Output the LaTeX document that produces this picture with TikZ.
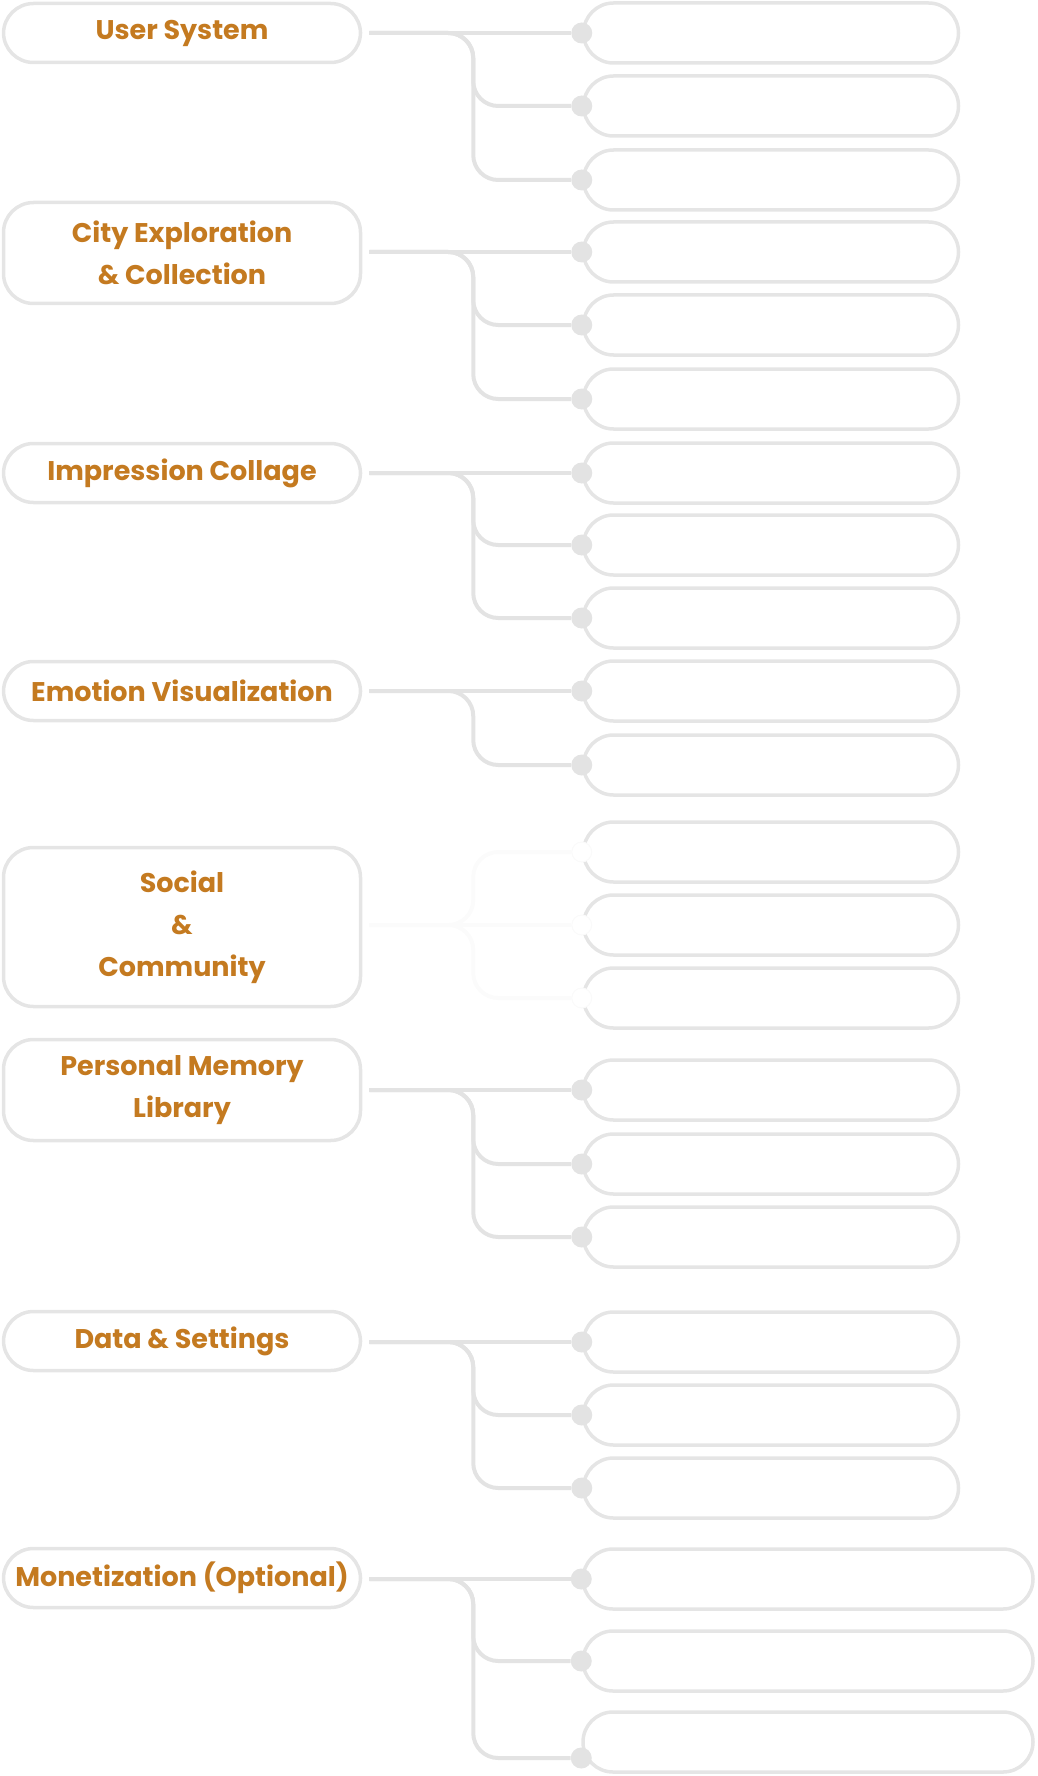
\documentclass[tikz,border=0pt]{standalone}
\usepackage{fontspec}
\setmainfont{Poppins}
\usetikzlibrary{positioning,calc}
\definecolor{amber}{HTML}{C47A20}
\definecolor{rim}{HTML}{E5E5E5}
\definecolor{wire}{HTML}{E3E3E3}

\begin{document}
\begin{tikzpicture}[x=1pt, y=-1pt,
  cat/.style={draw=rim, line width=3.5pt, rounded corners=30pt, minimum width=357pt, minimum height=59pt, align=center, text=amber, font=\fontsize{27}{42}\selectfont\bfseries},
  item/.style={draw=rim, line width=3.5pt, rounded corners=30pt, minimum width=375pt, minimum height=60pt, text=white, font=\fontsize{23}{26}\selectfont},
  wide/.style={item, minimum width=450pt},
  pin/.style={circle, fill=wire, inner sep=0pt, minimum size=21pt},
  ghost/.style={circle, fill=white, draw=black!2, line width=1pt, inner sep=0pt, minimum size=20pt},
  link/.style={draw=wire, line width=4pt, rounded corners=25pt},
  faint/.style={link, draw=black!1.5}]
\useasboundingbox (0,0) rectangle (1037,1776);

% main categories
\node[cat] (us) at (182,33) {User System};
\node[cat, minimum height=101pt] (city) at (182,253) {City Exploration\\\& Collection};
\node[cat] (imp) at (182,473) {Impression Collage};
\node[cat] (emo) at (182,691) {Emotion Visualization};
\node[cat, minimum height=159pt] (soc) at (182,927) {Social\\\&\\Community};
\node[cat, minimum height=101pt] (mem) at (182,1090) {Personal Memory\\Library};
\node[cat] (data) at (182,1341) {Data \& Settings};
\node[cat] (money) at (182,1578) {Monetization (Optional)};

% features
\node[item] (login) at (771,33) {Sign Up \& Login};
\node[item] (info) at (771,106) {Personal Info Management};
\node[item] (pref) at (771,180) {Preference Settings};
\node[item] (map) at (771,252) {City Map Browsing};
\node[item] (modes) at (771,325) {Multi-modal Collection Mode};
\node[item] (graffiti) at (771,399) {AR Graffiti Creation};
\node[item] (auto) at (771,473) {Auto Collage Generation};
\node[item] (editor) at (771,545) {Collage Editor};
\node[item] (manage) at (771,618) {Collage Management};
\node[item] (report) at (771,691) {Personal Emotion Reports};
\node[item] (layer) at (771,765) {City Emotion Layers};
\node[item] (discover) at (771,852) {Content Discovery};
\node[item] (interact) at (771,925) {Interactive Features};
\node[item] (collab) at (771,998) {Collaborative Creation};
\node[item] (timeline) at (771,1090) {Timeline View};
\node[item] (album) at (771,1164) {Location Albums};
\node[item] (review) at (771,1237) {Memory Review};
\node[item] (stats) at (771,1342) {Data Statistics};
\node[item] (account) at (771,1415) {Account \& Security};
\node[item] (help) at (771,1488) {Help \& Feedback};
\node[wide] (premium) at (808,1579) {Premium Feature Subscription};
\node[wide] (store) at (808,1661) {Virtual Goods Store};
\node[wide] (partner) at (808,1742) {Partner Merchant Traffic Redirection};

% joints
\node[pin] (login-p) at (login.west) {}; \node[pin] (info-p) at (info.west) {}; \node[pin] (pref-p) at (pref.west) {};
\node[pin] (map-p) at (map.west) {}; \node[pin] (modes-p) at (modes.west) {}; \node[pin] (graffiti-p) at (graffiti.west) {};
\node[pin] (auto-p) at (auto.west) {}; \node[pin] (editor-p) at (editor.west) {}; \node[pin] (manage-p) at (manage.west) {};
\node[pin] (report-p) at (report.west) {}; \node[pin] (layer-p) at (layer.west) {};
\node[ghost] (discover-p) at (discover.west) {}; \node[ghost] (interact-p) at (interact.west) {}; \node[ghost] (collab-p) at (collab.west) {};
\node[pin] (timeline-p) at (timeline.west) {}; \node[pin] (album-p) at (album.west) {}; \node[pin] (review-p) at (review.west) {};
\node[pin] (stats-p) at (stats.west) {}; \node[pin] (account-p) at (account.west) {}; \node[pin] (help-p) at (help.west) {};
\node[pin] (premium-p) at (premium.west) {}; \node[pin] (store-p) at (store.west) {}; \node[pin] (partner-p) at ([yshift=-16pt]partner.west) {};

% links
\draw[link] ($(us.east |- login-p)+(7,0)$) -- (login-p); \draw[link] ($(us.east |- login-p)+(7,0)$) -- ++(104,0) |- (info-p); \draw[link] ($(us.east |- login-p)+(7,0)$) -- ++(104,0) |- (pref-p);
\draw[link] ($(city.east |- map-p)+(7,0)$) -- (map-p); \draw[link] ($(city.east |- map-p)+(7,0)$) -- ++(104,0) |- (modes-p); \draw[link] ($(city.east |- map-p)+(7,0)$) -- ++(104,0) |- (graffiti-p);
\draw[link] ($(imp.east |- auto-p)+(7,0)$) -- (auto-p); \draw[link] ($(imp.east |- auto-p)+(7,0)$) -- ++(104,0) |- (editor-p); \draw[link] ($(imp.east |- auto-p)+(7,0)$) -- ++(104,0) |- (manage-p);
\draw[link] ($(emo.east |- report-p)+(7,0)$) -- (report-p); \draw[link] ($(emo.east |- report-p)+(7,0)$) -- ++(104,0) |- (layer-p);
\draw[faint] ($(soc.east |- interact-p)+(7,0)$) -- (interact-p); \draw[faint] ($(soc.east |- interact-p)+(7,0)$) -- ++(104,0) |- (discover-p); \draw[faint] ($(soc.east |- interact-p)+(7,0)$) -- ++(104,0) |- (collab-p);
\draw[link] ($(mem.east |- timeline-p)+(7,0)$) -- (timeline-p); \draw[link] ($(mem.east |- timeline-p)+(7,0)$) -- ++(104,0) |- (album-p); \draw[link] ($(mem.east |- timeline-p)+(7,0)$) -- ++(104,0) |- (review-p);
\draw[link] ($(data.east |- stats-p)+(7,0)$) -- (stats-p); \draw[link] ($(data.east |- stats-p)+(7,0)$) -- ++(104,0) |- (account-p); \draw[link] ($(data.east |- stats-p)+(7,0)$) -- ++(104,0) |- (help-p);
\draw[link] ($(money.east |- premium-p)+(7,0)$) -- (premium-p); \draw[link] ($(money.east |- premium-p)+(7,0)$) -- ++(104,0) |- (store-p); \draw[link] ($(money.east |- premium-p)+(7,0)$) -- ++(104,0) |- (partner-p);
\end{tikzpicture}
\end{document}
